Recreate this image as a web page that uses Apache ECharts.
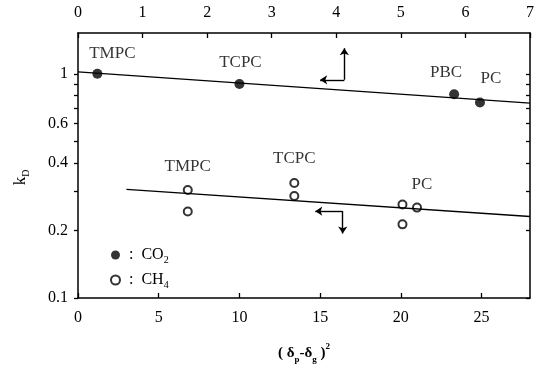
<!DOCTYPE html>
<html>
<head>
<meta charset="utf-8">
<script src="https://cdn.jsdelivr.net/npm/echarts@6/dist/echarts.min.js"></script>
<style>html,body{margin:0;padding:0;background:#fff}#c{width:537px;height:369px}</style>
</head>
<body>
<div id="c"></div>
<script>
// ---- data ----
const co2X = [1.2, 10.0, 23.3, 24.9];
const co2K = [1.0, 0.90, 0.81, 0.745];
const co2Names = ['TMPC', 'TCPC', 'PBC', 'PC'];

const ch4X = [6.8, 6.8, 13.4, 13.4, 20.1, 21.0, 20.1];
const ch4K = [0.303, 0.243, 0.326, 0.285, 0.261, 0.253, 0.213];
const ch4Names = ['TMPC', '', 'TCPC', '', '', 'PC', ''];

const co2FitX = [0, 28];
const co2FitK = [1.02, 0.74];
const ch4FitX = [3.0, 28];
const ch4FitK = [0.305, 0.231];

// arrows: [tip of horizontal, corner, tip of vertical]
const co2ArrowX = [15.0, 16.5, 16.5];
const co2ArrowK = [0.94, 0.94, 1.30];
const ch4ArrowX = [14.7, 16.4, 16.4];
const ch4ArrowK = [0.244, 0.244, 0.194];

const bottomTicks = [0, 5, 10, 15, 20, 25];
const topTicks = [0, 1, 2, 3, 4, 5, 6, 7];
const yLabels = [0.1, 0.2, 0.4, 0.6, 1];
const yMinorTicks = [0.1, 0.2, 0.3, 0.4, 0.5, 0.6, 0.7, 0.8, 0.9, 1.0];
const yRange = [0.1, 1.52];

// ---- build ----
const L = Math.log10;
const FONT = 'Liberation Serif';
const co2LabelOffsets = [[15, -2], [1, -3], [-8, -3], [11, -5]];
const ch4LabelOffsets = [[0, -5], null, [0, -6], null, null, [5, -5], null];

function pts(xs, ks, names, offsets) {
  return xs.map((x, i) => {
    const d = { value: [x, L(ks[i])] };
    if (names && names[i]) {
      d.label = {
        show: true, formatter: names[i], position: 'top', offset: offsets[i],
        color: '#000', fontFamily: FONT, fontSize: 17
      };
    }
    return d;
  });
}
function arrowLines(xs, ks) {
  return [
    [{ coord: [xs[1], L(ks[1])] }, { coord: [xs[0], L(ks[0])] }],
    [{ coord: [xs[1], L(ks[1])] }, { coord: [xs[2], L(ks[2])] }]
  ];
}
const axisLineStyle = { color: '#000', width: 1.5 };
const labelStyle = { color: '#000', fontFamily: FONT, fontSize: 16 };
const markLineBase = {
  silent: true, symbol: ['none', 'arrow'], symbolSize: 7,
  lineStyle: { color: '#000', width: 1.4, type: 'solid' },
  label: { show: false }, animation: false
};

const option = {
  backgroundColor: '#fff',
  animation: false,
  grid: { left: 78, right: 6, top: 33, bottom: 71 },
  legend: {
    orient: 'vertical', left: 105, top: 242, itemWidth: 9, itemHeight: 9, itemGap: 7,
    data: [{ name: 'CO2', icon: 'circle' }, { name: 'CH4', icon: 'emptyCircle' }],
    formatter: n => n === 'CO2' ? '{t| :  CO}{s|2}' : '{t| :  CH}{s|4}',
    textStyle: {
      color: '#000', fontFamily: FONT, fontSize: 16,
      rich: {
        t: { fontFamily: FONT, fontSize: 16, color: '#000', lineHeight: 20, verticalAlign: 'middle' },
        s: { fontFamily: FONT, fontSize: 10, color: '#000', verticalAlign: 'bottom', lineHeight: 20 }
      }
    }
  },
  xAxis: [
    {
      type: 'value', position: 'bottom', min: 0, max: 28,
      axisLine: { onZero: false, lineStyle: axisLineStyle },
      axisTick: { inside: true, length: 5, customValues: bottomTicks, lineStyle: { color: '#000', width: 1.3 } },
      axisLabel: Object.assign({ customValues: bottomTicks, margin: 12 }, labelStyle),
      splitLine: { show: false },
      name: '{n|( δ}{b|p}{n|-δ}{b|g}{n| )}{u|2}',
      nameLocation: 'middle', nameGap: 44,
      nameTextStyle: {
        rich: {
          n: { fontFamily: FONT, fontSize: 15, fontWeight: 'bold', color: '#000', lineHeight: 22, verticalAlign: 'middle' },
          b: { fontFamily: FONT, fontSize: 9, fontWeight: 'bold', color: '#000', lineHeight: 22, verticalAlign: 'bottom' },
          u: { fontFamily: FONT, fontSize: 9, fontWeight: 'bold', color: '#000', lineHeight: 22, verticalAlign: 'top' }
        }
      }
    },
    {
      type: 'value', position: 'top', min: 0, max: 7, interval: 1,
      axisLine: { onZero: false, lineStyle: axisLineStyle },
      axisTick: { inside: true, length: 5, customValues: topTicks, lineStyle: { color: '#000', width: 1.3 } },
      axisLabel: Object.assign({ customValues: topTicks, margin: 12 }, labelStyle),
      splitLine: { show: false }
    }
  ],
  yAxis: [
    {
      type: 'value', position: 'left', min: L(yRange[0]), max: L(yRange[1]),
      axisLine: { onZero: false, lineStyle: axisLineStyle },
      axisTick: { inside: false, length: 4, customValues: yMinorTicks.map(L), lineStyle: { color: '#000', width: 1.3 } },
      axisLabel: Object.assign({
        customValues: yLabels.map(L), margin: 10,
        formatter: v => String(Math.round(Math.pow(10, v) * 10) / 10)
      }, labelStyle),
      splitLine: { show: false },
      name: '{k|k}{d|D}', nameLocation: 'middle', nameGap: 47,
      nameTextStyle: {
        padding: [0, 24, 0, 0],
        rich: {
          k: { fontFamily: FONT, fontSize: 17, color: '#000', lineHeight: 20, verticalAlign: 'middle' },
          d: { fontFamily: FONT, fontSize: 10, color: '#000', lineHeight: 20, verticalAlign: 'bottom' }
        }
      }
    },
    {
      type: 'value', position: 'right', min: L(yRange[0]), max: L(yRange[1]),
      axisLine: { onZero: false, lineStyle: axisLineStyle },
      axisTick: { inside: true, length: 4, customValues: yMinorTicks.map(L), lineStyle: { color: '#000', width: 1.3 } },
      axisLabel: { show: false },
      splitLine: { show: false }
    }
  ],
  series: [
    {
      name: 'CO2fit', type: 'line', xAxisIndex: 0, yAxisIndex: 0, symbol: 'none',
      lineStyle: { color: '#000', width: 1.4 },
      data: co2FitX.map((x, i) => [x, L(co2FitK[i])]),
      markLine: Object.assign({ data: arrowLines(co2ArrowX, co2ArrowK) }, markLineBase)
    },
    {
      name: 'CH4fit', type: 'line', xAxisIndex: 0, yAxisIndex: 0, symbol: 'none',
      lineStyle: { color: '#000', width: 1.4 },
      data: ch4FitX.map((x, i) => [x, L(ch4FitK[i])]),
      markLine: Object.assign({ data: arrowLines(ch4ArrowX, ch4ArrowK) }, markLineBase)
    },
    {
      name: 'CO2', type: 'scatter', xAxisIndex: 0, yAxisIndex: 0, symbol: 'circle', symbolSize: 10,
      itemStyle: { color: '#000' },
      label: { color: '#000', fontFamily: FONT, fontSize: 17 },
      data: pts(co2X, co2K, co2Names, co2LabelOffsets)
    },
    {
      name: 'CH4', type: 'scatter', xAxisIndex: 0, yAxisIndex: 0, symbol: 'emptyCircle', symbolSize: 8,
      itemStyle: { color: '#000', borderColor: '#000', borderWidth: 1.5 },
      label: { color: '#000', fontFamily: FONT, fontSize: 17 },
      data: pts(ch4X, ch4K, ch4Names, ch4LabelOffsets)
    }
  ]
};
const chart = echarts.init(document.getElementById('c'), null, { renderer: 'canvas' });
chart.setOption(option);
</script>
</body>
</html>
